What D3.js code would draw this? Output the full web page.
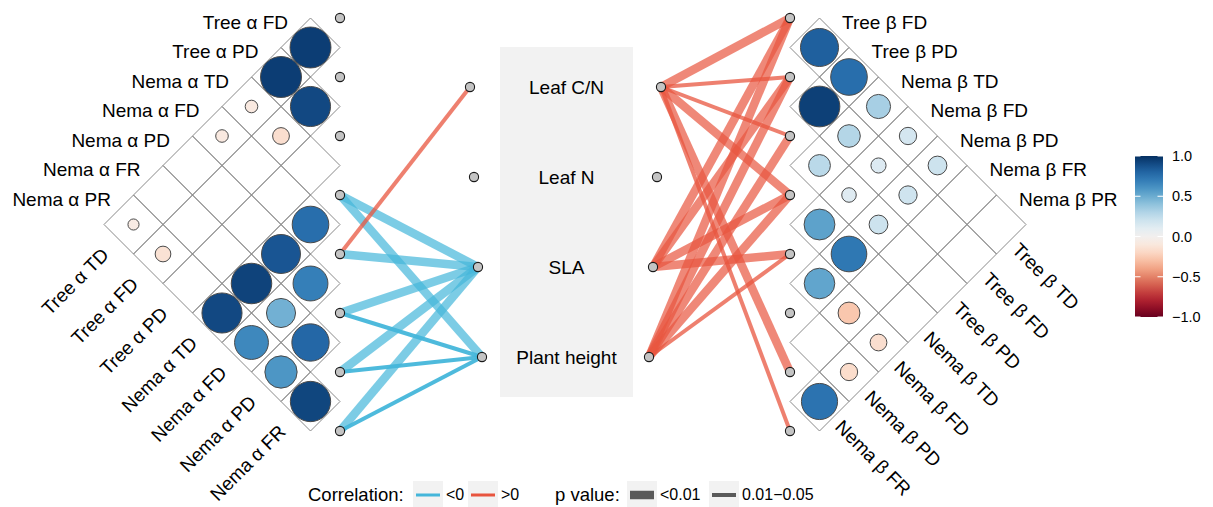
<!DOCTYPE html>
<html>
<head>
<meta charset="utf-8">
<script src="https://cdn.jsdelivr.net/npm/d3@7"></script>
<style>
  body { margin: 0; background: #fff; }
  text { font-family: "Liberation Sans", Arial, sans-serif; fill: #000; }
</style>
</head>
<body>
<svg id="chart" width="1213" height="507"></svg>
<script>
// ---- variables ----
const alphaVars = ["Tree α TD", "Tree α FD", "Tree α PD", "Nema α TD", "Nema α FD", "Nema α PD", "Nema α FR", "Nema α PR"];
const betaVars  = ["Tree β TD", "Tree β FD", "Tree β PD", "Nema β TD", "Nema β FD", "Nema β PD", "Nema β FR", "Nema β PR"];
const envVars   = ["Leaf C/N", "Leaf N", "SLA", "Plant height"];

// ---- significant pairwise correlations (lower triangle: [row, column, r]) ----
const alphaCorr = [
  ["Tree α FD", "Tree α TD", 0.95],
  ["Tree α PD", "Tree α TD", 0.95],
  ["Tree α PD", "Tree α FD", 0.91],
  ["Nema α TD", "Tree α TD", -0.09],
  ["Nema α TD", "Tree α FD", -0.16],
  ["Nema α FD", "Tree α TD", -0.09],
  ["Nema α FD", "Nema α TD", 0.76],
  ["Nema α PD", "Nema α TD", 0.86],
  ["Nema α PD", "Nema α FD", 0.69],
  ["Nema α FR", "Nema α TD", 0.93],
  ["Nema α FR", "Nema α FD", 0.48],
  ["Nema α FR", "Nema α PD", 0.79],
  ["Nema α PR", "Tree α TD", -0.07],
  ["Nema α PR", "Tree α FD", -0.14],
  ["Nema α PR", "Nema α TD", 0.91],
  ["Nema α PR", "Nema α FD", 0.65],
  ["Nema α PR", "Nema α PD", 0.59],
  ["Nema α PR", "Nema α FR", 0.92]
];

const betaCorr = [
  ["Tree β FD", "Tree β TD", 0.82],
  ["Tree β PD", "Tree β TD", 0.76],
  ["Tree β PD", "Tree β FD", 0.94],
  ["Nema β TD", "Tree β TD", 0.33],
  ["Nema β TD", "Tree β FD", 0.29],
  ["Nema β TD", "Tree β PD", 0.27],
  ["Nema β FD", "Tree β TD", 0.17],
  ["Nema β FD", "Tree β FD", 0.13],
  ["Nema β FD", "Tree β PD", 0.12],
  ["Nema β FD", "Nema β TD", 0.54],
  ["Nema β PD", "Tree β TD", 0.20],
  ["Nema β PD", "Tree β FD", 0.19],
  ["Nema β PD", "Tree β PD", 0.20],
  ["Nema β PD", "Nema β TD", 0.72],
  ["Nema β PD", "Nema β FD", 0.53],
  ["Nema β FR", "Nema β FD", -0.27],
  ["Nema β PR", "Nema β FD", -0.16],
  ["Nema β PR", "Nema β PD", -0.17],
  ["Nema β PR", "Nema β FR", 0.74]
];

// ---- links between diversity indices and plant traits: [index, trait, sign, p class] ----
const alphaLinks = [
  ["Nema α TD", "SLA", "<0", "<0.01"],
  ["Nema α TD", "Plant height", "<0", "<0.01"],
  ["Nema α FD", "Leaf C/N", ">0", "0.01−0.05"],
  ["Nema α FD", "SLA", "<0", "<0.01"],
  ["Nema α PD", "SLA", "<0", "<0.01"],
  ["Nema α PD", "Plant height", "<0", "0.01−0.05"],
  ["Nema α FR", "SLA", "<0", "<0.01"],
  ["Nema α FR", "Plant height", "<0", "0.01−0.05"],
  ["Nema α PR", "SLA", "<0", "<0.01"],
  ["Nema α PR", "Plant height", "<0", "0.01−0.05"]
];

const betaLinks = [
  ["Tree β TD", "Leaf C/N", ">0", "<0.01"],
  ["Tree β FD", "Leaf C/N", ">0", "0.01−0.05"],
  ["Tree β PD", "Leaf C/N", ">0", "0.01−0.05"],
  ["Nema β TD", "Leaf C/N", ">0", "<0.01"],
  ["Nema β FR", "Leaf C/N", ">0", "<0.01"],
  ["Nema β PR", "Leaf C/N", ">0", "0.01−0.05"],
  ["Tree β TD", "SLA", ">0", "<0.01"],
  ["Tree β FD", "SLA", ">0", "<0.01"],
  ["Nema β TD", "SLA", ">0", "<0.01"],
  ["Nema β FD", "SLA", ">0", "<0.01"],
  ["Tree β TD", "Plant height", ">0", "<0.01"],
  ["Tree β FD", "Plant height", ">0", "<0.01"],
  ["Tree β PD", "Plant height", ">0", "<0.01"],
  ["Nema β TD", "Plant height", ">0", "<0.01"],
  ["Nema β FD", "Plant height", ">0", "0.01−0.05"]
];

// ---- legend / colour bar labels ----
const signLevels = ["<0", ">0"];
const pLevels = ["<0.01", "0.01−0.05"];
const colorTicks = [1, 0.5, 0, -0.5, -1];

// ---- drawing ----
const svg = d3.select("#chart");
const FONT = 19;

const color = d3.scaleSequential(d3.interpolateRdBu).domain([-1, 1]);
const radius = d3.scaleSqrt().domain([0, 1]).range([0, 21]);
const signColor = d3.scaleOrdinal().domain(signLevels).range(["#45b6da", "#e8553f"]);
const pWidth = d3.scaleOrdinal().domain(pLevels).range([8.5, 4]);

// diagonal positions of the eight indices (shared by both triangles)
const yVar = d3.scalePoint().domain(d3.range(8)).range([18, 431]);
const half = yVar.step() / 2;

// trait nodes
const yEnv = d3.scalePoint().domain(envVars).range([87, 357]);
const envLeftX = d => 470 + 4 * envVars.indexOf(d);
const envRightX = d => 661 - 4 * envVars.indexOf(d);

// central grey panel with trait names
svg.append("rect").attr("x", 500).attr("y", 47).attr("width", 133).attr("height", 350).attr("fill", "#f2f2f2");
svg.append("g").selectAll("text").data(envVars).join("text")
  .attr("x", 566.5).attr("y", d => yEnv(d))
  .attr("text-anchor", "middle").attr("dominant-baseline", "central")
  .style("font-size", "19px").text(d => d);

function drawTriangle(vars, corr, links, xDiag, dir, envX) {
  const g = svg.append("g");
  const idx = d => vars.indexOf(d);
  const center = (i, j) => [xDiag + dir * half * (i - j), (yVar(i) + yVar(j)) / 2];

  // grid of diamond cells
  const cells = [];
  for (let i = 1; i < vars.length; i++) for (let j = 0; j < i; j++) cells.push([i, j]);
  g.append("g").selectAll("path").data(cells).join("path")
    .attr("d", ([i, j]) => {
      const [cx, cy] = center(i, j);
      return `M${cx},${cy - half}L${cx + half},${cy}L${cx},${cy + half}L${cx - half},${cy}Z`;
    })
    .attr("fill", "none").attr("stroke", "#8a8a8a").attr("stroke-width", 1);

  // correlation circles
  g.append("g").selectAll("circle").data(corr).join("circle")
    .attr("cx", d => center(idx(d[0]), idx(d[1]))[0])
    .attr("cy", d => center(idx(d[0]), idx(d[1]))[1])
    .attr("r", d => radius(Math.abs(d[2])))
    .attr("fill", d => color(d[2]))
    .attr("stroke", "#4a4a4a").attr("stroke-width", 1);

  // labels along the upper edge (rows)
  g.append("g").selectAll("text").data(vars.slice(1)).join("text")
    .attr("x", (d, k) => xDiag + dir * (52 + half * k))
    .attr("y", (d, k) => 22 + half * k)
    .attr("text-anchor", dir < 0 ? "end" : "start")
    .attr("dominant-baseline", "central")
    .style("font-size", FONT + "px").text(d => d);

  // labels along the lower edge (columns)
  g.append("g").selectAll("text").data(vars.slice(0, -1)).join("text")
    .attr("transform", (d, k) => {
      const x = dir < 0 ? xDiag - 230 + half * k : xDiag + 221 - half * k;
      const y = (dir < 0 ? 256 : 251) + half * k;
      return `translate(${x},${y}) rotate(${dir < 0 ? -45 : 45})`;
    })
    .attr("text-anchor", dir < 0 ? "end" : "start")
    .style("font-size", FONT + "px").text(d => d);

  // links to the traits
  svg.append("g").selectAll("line").data(links).join("line")
    .attr("x1", xDiag).attr("y1", d => yVar(idx(d[0])))
    .attr("x2", d => envX(d[1])).attr("y2", d => yEnv(d[1]))
    .attr("stroke", d => signColor(d[2]))
    .attr("stroke-width", d => pWidth(d[3]))
    .attr("stroke-opacity", d => (d[3] === "<0.01" ? 0.7 : (d[2] === "<0" ? 0.95 : 0.75)));
}

drawTriangle(alphaVars, alphaCorr, alphaLinks, 340, -1, envLeftX);
drawTriangle(betaVars, betaCorr, betaLinks, 790, 1, envRightX);

// nodes (drawn last so they sit on top of links)
const nodeG = svg.append("g");
function nodes(data) {
  nodeG.selectAll(null).data(data).enter().append("circle")
    .attr("cx", d => d[0]).attr("cy", d => d[1]).attr("r", 4.6)
    .attr("fill", "#c4c4c4").attr("stroke", "#1a1a1a").attr("stroke-width", 1.1);
}
nodes(alphaVars.map((d, k) => [340, yVar(k)]));
nodes(betaVars.map((d, k) => [790, yVar(k)]));
nodes(envVars.map(d => [envLeftX(d), yEnv(d)]));
nodes(envVars.map(d => [envRightX(d), yEnv(d)]));

// colour bar
const cbX = 1135, cbW = 28;
const yCb = d3.scaleLinear().domain([-1, 1]).range([317, 156]);
const grad = svg.append("defs").append("linearGradient").attr("id", "cbar")
  .attr("x1", 0).attr("y1", 1).attr("x2", 0).attr("y2", 0);
d3.range(0, 1.0001, 0.05).forEach(t => grad.append("stop").attr("offset", t).attr("stop-color", d3.interpolateRdBu(t)));
svg.append("rect").attr("x", cbX).attr("y", yCb(1)).attr("width", cbW).attr("height", yCb(-1) - yCb(1)).attr("fill", "url(#cbar)");
const cbG = svg.append("g");
cbG.selectAll("line.l").data(colorTicks).join("line").attr("class", "l")
  .attr("x1", cbX).attr("x2", cbX + 5.5).attr("y1", d => yCb(d)).attr("y2", d => yCb(d))
  .attr("stroke", "#fff").attr("stroke-width", 1);
cbG.selectAll("line.r").data(colorTicks).join("line").attr("class", "r")
  .attr("x1", cbX + cbW - 5.5).attr("x2", cbX + cbW).attr("y1", d => yCb(d)).attr("y2", d => yCb(d))
  .attr("stroke", "#fff").attr("stroke-width", 1);
cbG.selectAll("text").data(colorTicks).join("text")
  .attr("x", cbX + cbW + 9).attr("y", d => yCb(d))
  .attr("dominant-baseline", "central").style("font-size", "14.5px")
  .text(d => d3.format(".1f")(d).replace("-", "−"));

// bottom legend
const ly = 494;
const leg = svg.append("g");
leg.append("text").attr("x", 308).attr("y", ly).attr("dominant-baseline", "central").style("font-size", "18.5px").text("Correlation:");
signLevels.forEach((s, k) => {
  const x0 = 413 + 55 * k;
  leg.append("rect").attr("x", x0).attr("y", 481).attr("width", 30).attr("height", 26).attr("fill", "#f2f2f2");
  leg.append("line").attr("x1", x0 + 3).attr("x2", x0 + 27).attr("y1", ly + 1).attr("y2", ly + 1)
    .attr("stroke", signColor(s)).attr("stroke-width", 3);
  leg.append("text").attr("x", x0 + 33).attr("y", ly).attr("dominant-baseline", "central").style("font-size", "16px").text(s);
});
leg.append("text").attr("x", 555).attr("y", ly).attr("dominant-baseline", "central").style("font-size", "18.5px").text("p value:");
pLevels.forEach((p, k) => {
  const x0 = 627 + 82 * k;
  leg.append("rect").attr("x", x0).attr("y", 481).attr("width", 30).attr("height", 26).attr("fill", "#f2f2f2");
  leg.append("line").attr("x1", x0 + 3).attr("x2", x0 + 27).attr("y1", ly + 1).attr("y2", ly + 1)
    .attr("stroke", "#5a5a5a").attr("stroke-width", pWidth(p));
  leg.append("text").attr("x", x0 + 33).attr("y", ly).attr("dominant-baseline", "central").style("font-size", "16px").text(p);
});
</script>
</body>
</html>
